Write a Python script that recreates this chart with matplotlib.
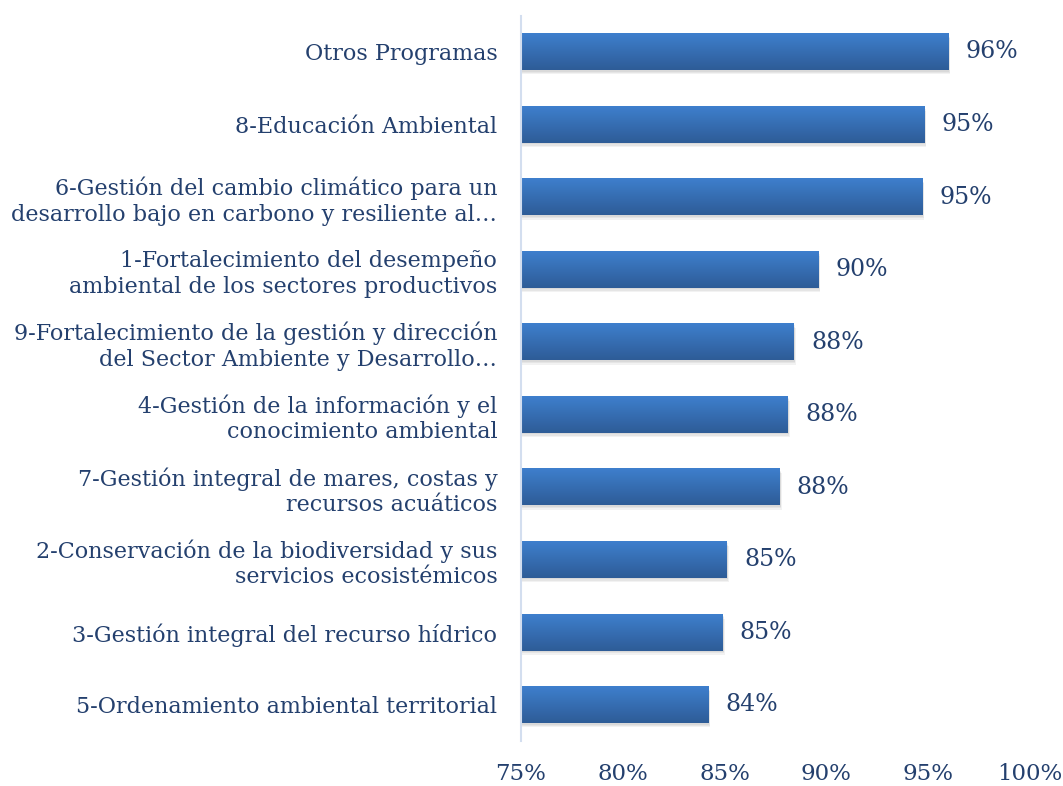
import numpy as np
import matplotlib
matplotlib.use("Agg")
import matplotlib.pyplot as plt
from matplotlib.patches import Rectangle

# data, top to bottom as shown
categorias = [
    "Otros Programas",
    "8-Educación Ambiental",
    "6-Gestión del cambio climático para un\ndesarrollo bajo en carbono y resiliente al…",
    "1-Fortalecimiento del desempeño\nambiental de los sectores productivos",
    "9-Fortalecimiento de la gestión y dirección\ndel Sector Ambiente y Desarrollo…",
    "4-Gestión de la información y el\nconocimiento ambiental",
    "7-Gestión integral de mares, costas y\nrecursos acuáticos",
    "2-Conservación de la biodiversidad y sus\nservicios ecosistémicos",
    "3-Gestión integral del recurso hídrico",
    "5-Ordenamiento ambiental territorial",
]
valores = [95.97, 94.8, 94.7, 89.6, 88.4, 88.1, 87.7, 85.1, 84.9, 84.2]
xticks = [75, 80, 85, 90, 95, 100]

txt_color = "#24406E"
plt.rcParams['font.family'] = ['DejaVu Serif']

fig = plt.figure(figsize=(10.63, 7.86), dpi=100)
ax = fig.add_axes([0.490, 0.057, 0.479, 0.923])

n = len(categorias)
ypos = np.arange(n)[::-1]
h = 0.5
x0 = 75

# vertical gradient for the bars
grad = np.linspace(0, 1, 64).reshape(-1, 1)
top = np.array([0x3E, 0x7F, 0xCD]) / 255.0
bot = np.array([0x2E, 0x5C, 0x97]) / 255.0
img = top[None, None, :] * (1 - grad[:, :, None]) + bot[None, None, :] * grad[:, :, None]

for y, v in zip(ypos, valores):
    # soft shadow, a few stacked faint layers
    for k in range(3):
        d = 0.02 + 0.02 * k
        ax.add_patch(Rectangle((x0 + 0.05, y - h / 2 - d), v - x0 + 0.03 * k, h,
                               facecolor="#000000", alpha=0.05, edgecolor="none", zorder=1))
    ax.imshow(img, extent=(x0, v, y - h / 2, y + h / 2), aspect="auto",
              origin="upper", zorder=2)
    ax.text(v + 0.85, y, "{:.0f}%".format(v), va="center", ha="left",
            fontsize=17, color=txt_color)

ax.set_xlim(75, 100)
ax.set_ylim(-0.5, n - 0.5)
ax.set_yticks(ypos)
ax.set_yticklabels(categorias, fontsize=16, color=txt_color, linespacing=1.2)
ax.set_xticks(xticks)
ax.set_xticklabels(["{}%".format(t) for t in xticks], fontsize=16.5, color=txt_color)
ax.tick_params(axis="both", length=0)
ax.tick_params(axis="x", pad=16)
ax.tick_params(axis="y", pad=17)

for s in ["top", "right", "bottom"]:
    ax.spines[s].set_visible(False)
ax.spines["left"].set_color("#D3DEEF")
ax.spines["left"].set_linewidth(1.5)
ax.spines["left"].set_zorder(3)

fig.savefig("out.png", dpi=100)
